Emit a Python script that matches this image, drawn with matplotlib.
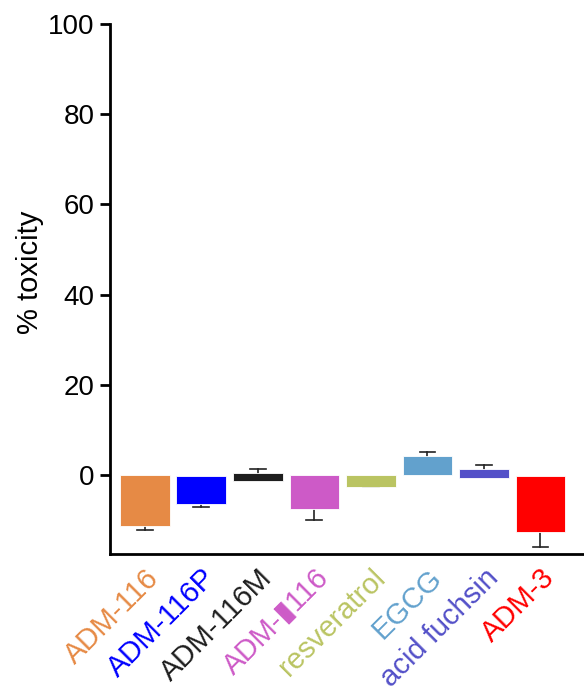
import numpy as np
import matplotlib.pyplot as plt

plt.rcParams['font.family'] = ['Liberation Sans', 'DejaVu Sans']

compounds = ["ADM-116", "ADM-116P", "ADM-116M", "ADM-\u25ae116",
             "resveratrol", "EGCG", "acid fuchsin", "ADM-3"]
colors = ["#e68a45", "#0000ff", "#1e1e1e", "#cd5ac7",
          "#bac462", "#62a1cd", "#5350c8", "#ff0000"]

# bar extents (% toxicity) and end of the error whisker
bar_low = [-11.4, -6.4, -1.3, -7.6, -2.6, 0.0, -0.6, -12.6]
bar_high = [0.0, -0.3, 0.5, 0.0, 0.0, 4.1, 1.4, -0.3]
err_tip = [-12.3, -7.2, 1.4, -10.1, -2.8, 5.1, 2.2, -16.1]

fig = plt.figure(figsize=(5.84, 6.91), dpi=100)
ax = fig.add_axes([0.188, 0.198, 0.812, 0.767])

x = np.arange(len(compounds))
low = np.array(bar_low)
high = np.array(bar_high)
tip = np.array(err_tip)

# whisker starts at the bar face farthest from zero
start = np.where(tip < 0, low, high)
for xi, s, t in zip(x, start, tip):
    ax.plot([xi, xi], [s, t], color='#222222', lw=1.2, zorder=1)
    ax.plot([xi - 0.14, xi + 0.14], [t, t], color='#222222', lw=1.2, zorder=1)

ax.bar(x, high - low, bottom=low, width=0.88, color=colors,
       edgecolor='white', linewidth=0.6, zorder=2)

ax.set_xlim(-0.62, 7.77)
ax.set_ylim(-17.6, 100)
ax.set_yticks([0, 20, 40, 60, 80, 100])
ax.tick_params(axis='y', labelsize=20, width=2, length=7, direction='out', pad=4)
ax.set_ylabel("% toxicity", fontsize=21)
ax.yaxis.set_label_coords(-0.138, 0.531)

ax.set_xticks(x)
ax.set_xticklabels(compounds, rotation=45, ha='right', va='top',
                   rotation_mode='anchor', fontsize=21)
for lbl, c in zip(ax.get_xticklabels(), colors):
    lbl.set_color(c)
ax.tick_params(axis='x', length=0, pad=7)

for side in ['top', 'right']:
    ax.spines[side].set_visible(False)
for side in ['left', 'bottom']:
    ax.spines[side].set_linewidth(2)

fig.savefig("out.png", dpi=100)
